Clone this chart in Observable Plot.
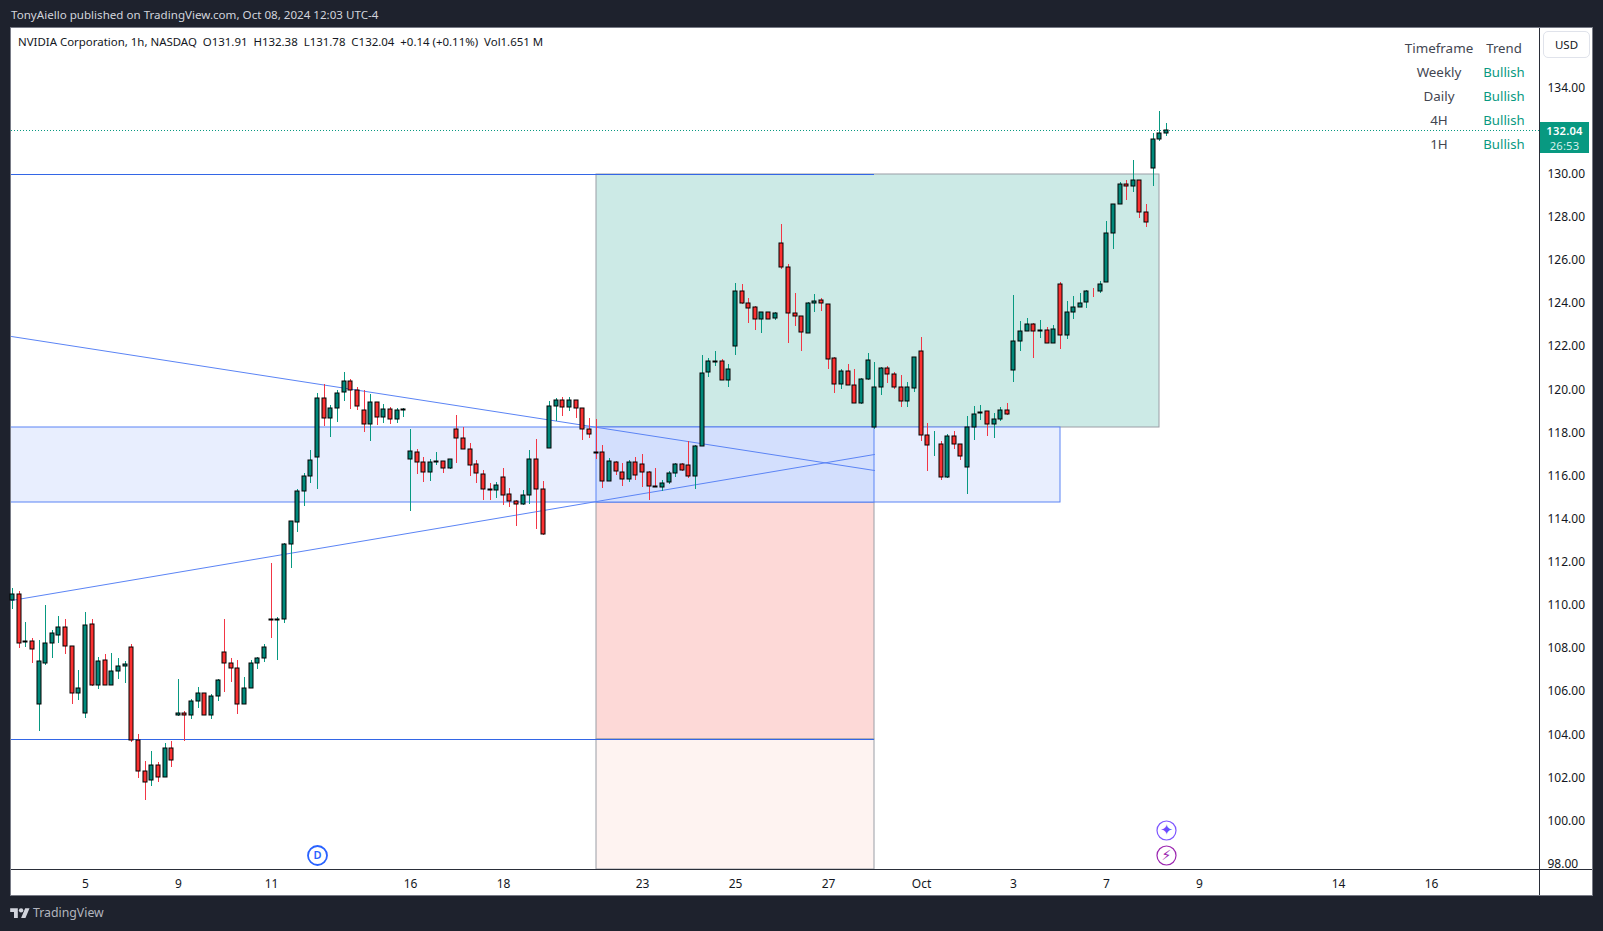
<!DOCTYPE html>
<html>
<head>
<meta charset="utf-8">
<script src="https://cdn.jsdelivr.net/npm/d3@7"></script>
<script src="https://cdn.jsdelivr.net/npm/@observablehq/plot@0.6"></script>
<style>
html,body{margin:0;padding:0;background:#1e222d;width:1603px;height:931px;overflow:hidden}
body{position:relative;font-family:"Noto Sans",sans-serif}
.abs{position:absolute;white-space:pre}
#panel{position:absolute;left:11px;top:28px;width:1581px;height:867px;background:#fff;box-shadow:0 0 0 1px #787b86}
#chart{position:absolute;left:0;top:0}
</style>
</head>
<body>
<div id="panel"></div>
<div id="chart"></div>
<script>
const headerText = "TonyAiello published on TradingView.com, Oct 08, 2024 12:03 UTC-4";
const legendText = "NVIDIA Corporation, 1h, NASDAQ  O131.91  H132.38  L131.78  C132.04  +0.14 (+0.11%)  Vol1.651 M";
const trendTimeframes = ["Timeframe","Weekly","Daily","4H","1H"];
const trendValues = ["Trend","Bullish","Bullish","Bullish","Bullish"];
const priceTicks = [98,100,102,104,106,108,110,112,114,116,118,120,122,124,126,128,130,132,134];
const timeTickBars = [11,25,39,60,74,95,109,123,137,151,165,179,200,214];
const timeTickLabels = ["5","9","11","16","18","23","25","27","Oct","3","7","9","14","16"];
const lastPrice = 132.04;

const open = [110.22,110.50,108.31,108.32,105.40,107.34,108.27,108.64,109.01,108.09,
105.95,104.98,109.11,106.32,107.44,106.32,106.97,107.16,108.04,103.73,
102.33,101.87,102.61,102.01,103.40,104.89,105.02,104.93,105.58,105.95,
104.93,105.81,107.81,107.30,107.11,105.44,106.18,107.30,107.53,109.35,
109.33,109.34,112.82,113.84,115.28,115.97,116.86,119.59,118.66,119.13,
119.87,120.38,119.96,119.04,118.39,119.41,118.71,119.08,118.62,119.07,
116.76,117.09,116.62,116.16,116.62,116.67,116.35,118.15,117.74,117.23,
116.53,116.07,115.38,115.33,115.93,115.14,114.82,114.68,115.09,116.76,
115.37,117.27,119.22,119.50,119.18,119.50,119.13,118.15,117.10,117.09,
115.75,116.66,116.19,115.84,116.63,116.53,116.16,115.52,115.47,115.70,
116.12,116.53,116.49,115.98,117.37,120.80,121.30,121.31,120.43,122.01,
124.56,124.00,123.82,123.26,123.58,123.31,126.78,125.67,123.54,123.40,
122.61,124.00,124.14,123.96,121.45,120.24,120.85,120.20,119.36,120.47,
118.28,120.11,120.99,120.71,120.11,119.46,120.06,121.78,117.88,117.42,
117.46,115.96,117.83,117.46,116.42,118.25,118.90,118.99,118.39,118.62,
119.04,120.89,122.24,122.70,123.03,122.70,122.75,122.14,124.88,122.52,
123.58,123.81,124.05,124.57,124.56,124.97,127.25,128.59,129.52,129.43,
129.70,128.22,130.26,131.61,131.91];
const high = [110.78,110.65,109.21,108.46,108.38,110.00,108.87,109.52,109.34,108.13,
106.99,109.68,109.34,107.62,107.73,107.76,107.55,107.39,108.18,104.02,
102.77,103.26,102.71,103.60,103.69,106.57,105.07,105.67,106.20,105.95,
105.87,106.57,109.38,107.53,107.44,106.65,107.48,107.58,108.18,111.94,
109.43,112.88,113.89,115.37,116.13,117.20,119.84,120.24,119.27,119.96,
120.81,120.47,120.10,119.98,119.79,119.41,119.31,119.17,119.13,119.13,
118.15,117.23,116.86,116.76,117.09,116.67,116.76,118.80,118.25,117.50,
116.72,116.25,115.67,115.70,116.35,115.42,114.86,115.33,117.20,117.69,
115.74,119.45,119.59,119.64,119.64,119.50,119.13,118.66,118.64,117.42,
116.83,116.67,116.58,116.72,116.86,117.00,116.21,116.35,115.79,116.21,
116.58,116.58,117.60,117.42,121.59,121.45,121.79,121.40,121.19,124.93,
124.88,124.23,123.86,123.58,123.58,123.58,127.67,125.81,124.47,123.40,
124.05,124.42,124.23,123.96,121.50,120.94,121.17,120.94,120.52,121.68,
121.27,121.03,121.10,120.80,120.66,120.34,121.50,122.44,118.44,118.08,
117.61,117.92,118.08,117.46,118.76,119.22,119.27,118.99,118.90,119.18,
119.36,124.37,123.16,123.30,123.07,123.23,122.89,122.99,124.97,124.11,
124.32,124.46,124.60,124.70,125.02,127.80,128.59,129.61,129.70,130.63,
129.70,128.59,131.88,132.90,132.38];
const low = [109.82,108.02,108.07,107.33,104.17,107.24,107.56,108.26,107.75,105.43,
105.61,104.78,106.26,106.12,106.32,106.32,106.57,106.40,103.66,101.98,
100.97,101.62,101.81,102.01,102.50,104.87,103.71,104.73,105.24,104.93,
104.73,105.57,105.98,106.45,104.96,105.44,106.18,107.05,107.37,108.49,
107.47,109.19,111.72,113.39,114.61,115.68,115.40,118.31,117.81,118.51,
119.48,119.10,119.05,118.05,117.63,118.34,118.46,118.42,118.46,118.74,
114.38,116.07,115.73,115.77,116.49,116.14,116.30,116.58,117.23,116.01,
115.68,114.86,114.89,114.99,114.65,114.57,113.67,114.63,114.68,113.53,
113.27,117.27,118.53,118.79,118.99,118.66,117.64,117.74,116.77,115.45,
115.75,116.06,115.55,115.73,115.79,115.50,114.90,115.47,115.31,115.61,
115.96,116.21,115.88,115.41,117.37,120.60,121.11,120.43,120.14,121.62,
123.96,123.10,122.76,122.64,123.26,123.24,125.58,122.18,122.97,121.81,
122.61,123.58,123.66,120.94,119.86,120.01,120.20,119.36,119.32,120.43,
118.19,119.73,120.29,120.01,119.21,119.21,119.87,117.63,116.24,116.93,
115.82,115.91,117.26,116.75,115.17,117.68,118.60,117.86,117.77,118.53,
118.80,120.37,121.80,122.70,121.48,122.41,122.14,122.14,121.90,122.36,
123.29,123.81,123.80,124.31,124.49,124.97,126.54,128.59,128.79,129.18,
127.97,127.56,129.46,131.54,131.78];
const close = [110.50,108.27,108.33,107.99,107.39,108.27,108.69,109.01,108.09,105.95,
106.18,109.06,106.32,107.39,106.32,106.97,107.16,107.25,103.73,102.33,
101.82,102.61,102.01,103.40,102.84,105.02,104.93,105.58,105.95,104.93,
105.81,106.51,107.30,107.11,105.44,106.18,107.30,107.53,108.04,109.33,
109.35,112.82,113.89,115.28,115.97,116.72,119.59,118.66,119.13,119.82,
120.38,119.96,119.22,118.39,119.41,118.71,119.08,118.62,119.04,119.09,
117.13,116.62,116.16,116.62,116.67,116.35,116.76,117.74,117.23,116.49,
116.11,115.37,115.36,115.56,115.09,114.82,114.68,115.09,116.76,115.37,
113.32,119.22,119.50,119.18,119.50,119.13,118.15,117.92,117.08,115.75,
116.67,116.21,115.84,116.63,116.02,116.16,115.51,115.50,115.65,116.12,
116.53,116.26,115.98,117.37,120.75,121.31,121.32,120.43,120.94,124.56,
124.00,123.77,123.26,123.58,123.26,123.54,125.67,123.54,123.40,122.66,
124.00,124.09,124.00,121.40,120.24,120.85,120.20,119.36,120.48,121.36,
120.11,120.99,120.71,120.11,119.46,120.11,121.50,117.88,117.42,117.44,
115.96,117.83,117.46,116.93,118.25,118.85,118.94,118.39,118.62,119.04,
118.85,122.24,122.70,123.03,122.70,122.75,122.14,122.79,122.52,123.58,
123.81,124.00,124.56,124.55,124.88,127.25,128.59,129.52,129.43,129.70,
128.22,127.76,131.61,131.88,132.04];

// Drawn zones and lines, in bar index and price
const barStart = -0.151, barEnd = 230.24, priceMin = 97.765, priceMax = 136.771;
const zoneBarA = 88, zoneBarB = 130, zoneBarC = 158, zoneBarD = 173;
const levelTop = 130, levelBandHigh = 118.265, levelBandLow = 114.786, levelLow = 103.794;
const trendDown = [{b:barStart,p:122.47},{b:zoneBarB,p:116.27}];
const trendUp = [{b:barStart,p:110.22},{b:zoneBarB,p:117.0}];
const dividendBar = [{b:46,p:98.40}];
const starBar = [{b:174,p:99.56}];
const boltBar = [{b:174,p:98.40}];

const FONT = '"Noto Sans",sans-serif';
const GREEN = "#089981", RED = "#f23645", BODY_RED="#fb3131", BODY_GREEN="#00897b";
const BLUE = "#5b84f5", LEVEL_BLUE="#3366e6", GRAY = "#9a9ea6";
const candles = open.map((o,i)=>({i,o,h:high[i],l:low[i],c:close[i],up:close[i]>=o}));
const W = 0.3016;
const zoneMark = (x1,x2,y1,y2,fill,stroke)=>Plot.rect([{x1,x2,y1,y2}],{x1:"x1",x2:"x2",y1:"y1",y2:"y2",fill,stroke,strokeWidth:1,clip:true});

const plot = Plot.plot({
  width:1603,height:931,
  marginLeft:11,marginRight:64,marginTop:28,marginBottom:62,
  style:{background:"transparent",fontFamily:FONT,fontSize:"12px",color:"#131722",overflow:"visible"},
  x:{type:"linear",domain:[barStart,barEnd],round:true},
  y:{type:"linear",domain:[priceMin,priceMax],round:true},
  marks:[
    zoneMark(zoneBarA,zoneBarD,levelBandHigh,levelTop,"#cceae6",GRAY),
    zoneMark(zoneBarA,zoneBarB,levelLow,levelBandLow,"#fdd9d7",GRAY),
    zoneMark(zoneBarA,zoneBarB,priceMin,levelLow,"#fef3f1",GRAY),
    zoneMark(barStart-2,zoneBarC,levelBandLow,levelBandHigh,"#e8eefe",BLUE),
    zoneMark(zoneBarA,zoneBarB,levelBandLow,levelBandHigh,"#d3dffd",BLUE),
    Plot.ruleY([levelTop],{x1:barStart,x2:zoneBarB,stroke:LEVEL_BLUE,strokeWidth:1}),
    Plot.ruleY([levelLow],{x1:barStart,x2:zoneBarB,stroke:LEVEL_BLUE,strokeWidth:1}),
    Plot.line(trendDown,{x:"b",y:"p",stroke:BLUE,strokeWidth:1}),
    Plot.line(trendUp,{x:"b",y:"p",stroke:BLUE,strokeWidth:1}),
    Plot.ruleY([lastPrice],{stroke:GREEN,strokeWidth:1,strokeDasharray:"1 2"}),
    Plot.ruleX(candles,{filter:d=>d.up,x:"i",y1:"l",y2:"h",stroke:GREEN,strokeWidth:1}),
    Plot.ruleX(candles,{filter:d=>!d.up,x:"i",y1:"l",y2:"h",stroke:RED,strokeWidth:1}),
    Plot.rect(candles,{filter:d=>d.up,x1:d=>d.i-W,x2:d=>d.i+W,y1:"o",y2:"c",fill:BODY_GREEN,stroke:"#000",strokeWidth:1}),
    Plot.rect(candles,{filter:d=>!d.up,x1:d=>d.i-W,x2:d=>d.i+W,y1:"o",y2:"c",fill:BODY_RED,stroke:"#000",strokeWidth:1}),
    Plot.dot(dividendBar,{x:"b",y:"p",r:9.5,stroke:"#2962ff",strokeWidth:1.8,fill:"#fff"}),
    Plot.text(dividendBar,{x:"b",y:"p",text:()=>"D",fill:"#2962ff",fontSize:11,fontWeight:600}),
    Plot.dot(starBar,{x:"b",y:"p",r:9.5,stroke:"#7e57ff",strokeWidth:1.2,fill:"#fff"}),
    Plot.text(starBar,{x:"b",y:"p",text:()=>"✦",fill:"#6a4dff",fontSize:15,fontFamily:"DejaVu Sans"}),
    Plot.dot(boltBar,{x:"b",y:"p",r:9.5,stroke:"#9c27b0",strokeWidth:1.2,fill:"#fff"}),
    Plot.text(boltBar,{x:"b",y:"p",text:()=>"⚡",fill:"#9c27b0",fontSize:14,fontFamily:"DejaVu Sans"}),
    Plot.axisY(priceTicks,{anchor:"right",tickSize:0,tickPadding:8,tickFormat:d=>d.toFixed(2),label:null}),
    Plot.axisX(timeTickBars,{anchor:"bottom",tickSize:0,tickPadding:9.7,tickFormat:d=>timeTickLabels[timeTickBars.indexOf(d)],label:null})
  ]
});
document.getElementById("chart").appendChild(plot);

function add(css,text){
  const e=document.createElement("div");
  e.className="abs"; e.style.cssText=css;
  if(text!==undefined) e.textContent=text;
  document.body.appendChild(e); return e;
}
// frame lines of the panes
add("left:11px;top:869px;width:1581px;height:1px;background:#2a2e39");
add("left:1539px;top:28px;width:1px;height:867px;background:#2a2e39");
// header & legend
add("left:11px;top:7px;font-size:11.6px;line-height:16px;color:#d1d4dc",headerText);
add("left:18px;top:34px;font-size:11.45px;line-height:16px;color:#131722",legendText);
// trend table
const rowY=[48.3,72.3,96.3,120.3,144];
trendTimeframes.forEach((t,i)=>{
  add(`left:1389px;width:100px;text-align:center;top:${rowY[i]-9}px;line-height:18px;font-size:13.4px;color:#434651`,t);
  add(`left:1454px;width:100px;text-align:center;top:${rowY[i]-9}px;line-height:18px;font-size:13.2px;color:${i?"#089981":"#434651"}`,trendValues[i]);
});
// USD button
add("left:1543px;top:31px;width:45px;height:25px;border:1px solid #e0e3eb;border-radius:5px;background:#fff;text-align:center;font-size:11.5px;line-height:25px;color:#131722","USD");
// last price badge
add("left:1540px;top:122px;width:49px;height:31px;background:#089981");
add("left:1540px;top:122.7px;width:49px;text-align:center;font-size:11.2px;letter-spacing:.2px;line-height:15px;font-weight:600;color:#fff",lastPrice.toFixed(2));
add("left:1540px;top:137.8px;width:49px;text-align:center;font-size:11.2px;letter-spacing:.2px;line-height:15px;color:#d6efeb","26:53");
// logo
const logo=add("left:10px;top:906px");
logo.innerHTML='<svg style="display:block" width="20" height="12" viewBox="0 0 36 22" fill="#d1d4dc"><path d="M14 22H7V11H0V4h14v18zM28 22h-8l7.5-18h8L28 22z"/><circle cx="20" cy="8" r="4"/></svg>';
add("left:33px;top:904px;font-size:12.3px;line-height:18px;color:#b2b5be","TradingView");
</script>
</body>
</html>
